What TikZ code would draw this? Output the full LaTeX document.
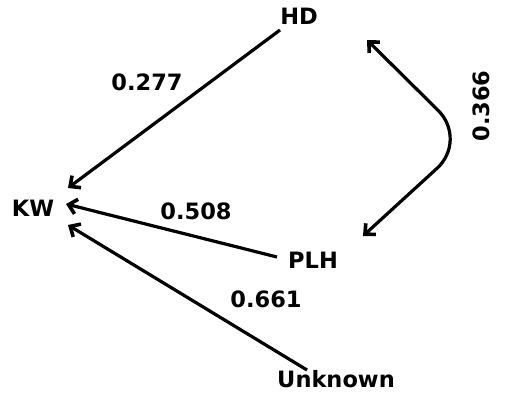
\documentclass[tikz,border=0pt]{standalone}
\usepackage{fontspec}
\setmainfont{DejaVu Sans}
\usetikzlibrary{arrows.meta}
\tikzset{
  lbl/.style={font=\bfseries\fontsize{22.5}{24}\selectfont, inner sep=0pt},
  tip/.tip={Straight Barb[length=8pt,width=15pt,line width=3.6pt]},
  arr/.style={line width=3.2pt, -tip},
  dbl/.style={line width=3.2pt, tip-tip, rounded corners=42pt},
}
\begin{document}
\begin{tikzpicture}[x=1pt,y=-1pt]
  \useasboundingbox (0,0) rectangle (505,412);
  % variables
  \node[lbl] (hd)  at (299,16)  {HD};
  \node[lbl] (kw)  at (33,208)  {KW};
  \node[lbl] (plh) at (313,260) {PLH};
  \node[lbl] (unk) at (336,379) {Unknown};
  % path coefficients
  \node[lbl] (c277) at (147,82)  {0.277};
  \node[lbl] (c508) at (196,211) {0.508};
  \node[lbl] (c661) at (266,299) {0.661};
  \node[lbl, rotate=90] (c366) at (481,106) {0.366};
  % effects on KW
  \draw[arr] ([shift={(-19,14)}]hd.center)  -- ([shift={(35,-20)}]kw.center);
  \draw[arr] ([shift={(-36,-3)}]plh.center) -- ([shift={(33,-4)}]kw.center);
  \draw[arr] ([shift={(-29,-9)}]unk.center) -- ([shift={(35,17)}]kw.center);
  % correlation between HD and PLH
  \draw[dbl] ([shift={(68,24)}]hd.center) -- (468,140) -- ([shift={(50,-24)}]plh.center);
\end{tikzpicture}
\end{document}
